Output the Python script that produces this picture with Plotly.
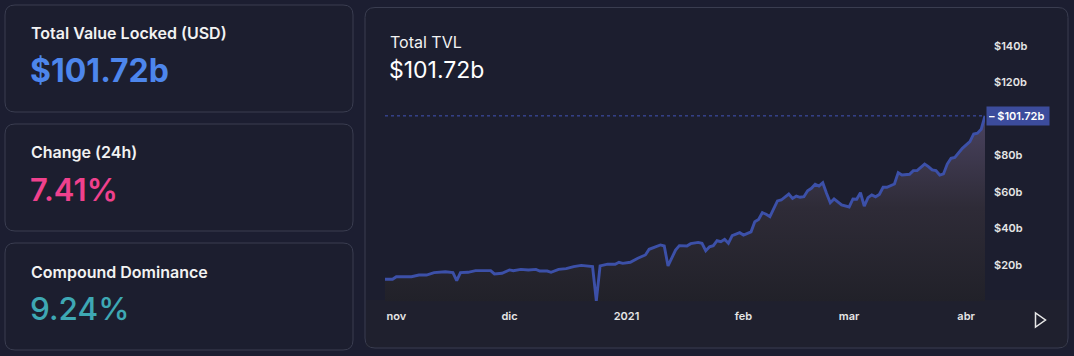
import plotly.graph_objects as go

# ---------------- data ----------------
dates = [
    "2020-10-29", "2020-10-31", "2020-11-01", "2020-11-04", "2020-11-05", "2020-11-07",
    "2020-11-09", "2020-11-11", "2020-11-13", "2020-11-14", "2020-11-16", "2020-11-17",
    "2020-11-18", "2020-11-20", "2020-11-22", "2020-11-26", "2020-11-27", "2020-11-29",
    "2020-12-01", "2020-12-02", "2020-12-04", "2020-12-06", "2020-12-08", "2020-12-09",
    "2020-12-11", "2020-12-12", "2020-12-14", "2020-12-16", "2020-12-18", "2020-12-20",
    "2020-12-23", "2020-12-24", "2020-12-25", "2020-12-27", "2020-12-29", "2020-12-30",
    "2020-12-31", "2021-01-02", "2021-01-04", "2021-01-06", "2021-01-07", "2021-01-09",
    "2021-01-10", "2021-01-11", "2021-01-12", "2021-01-14", "2021-01-15", "2021-01-17",
    "2021-01-18", "2021-01-20", "2021-01-21", "2021-01-22", "2021-01-23", "2021-01-24",
    "2021-01-25", "2021-01-26", "2021-01-27", "2021-01-28", "2021-01-29", "2021-01-31",
    "2021-02-01", "2021-02-03", "2021-02-04", "2021-02-05", "2021-02-06", "2021-02-07",
    "2021-02-08", "2021-02-10", "2021-02-11", "2021-02-13", "2021-02-14", "2021-02-15",
    "2021-02-16", "2021-02-17", "2021-02-18", "2021-02-19", "2021-02-20", "2021-02-21",
    "2021-02-22", "2021-02-23", "2021-02-24", "2021-02-25", "2021-02-27", "2021-03-01",
    "2021-03-02", "2021-03-03", "2021-03-04", "2021-03-05", "2021-03-06", "2021-03-07",
    "2021-03-08", "2021-03-09", "2021-03-10", "2021-03-11", "2021-03-13", "2021-03-14",
    "2021-03-15", "2021-03-17", "2021-03-18", "2021-03-19", "2021-03-21", "2021-03-22",
    "2021-03-23", "2021-03-24", "2021-03-25", "2021-03-26", "2021-03-27", "2021-03-28",
    "2021-03-29", "2021-03-31", "2021-04-01", "2021-04-02", "2021-04-03", "2021-04-04",
    "2021-04-05", "2021-04-06",
]
tvl_billions = [
    12.2, 12.2, 13.6, 13.3, 13.6, 14.5,
    14.5, 15.8, 16.0, 16.3, 15.8, 11.4,
    15.8, 16.0, 16.9, 16.9, 15.1, 15.5,
    17.3, 16.9, 17.6, 17.3, 17.6, 16.7,
    16.7, 16.0, 17.6, 18.0, 19.1, 19.8,
    19.1, 0.3, 19.5, 20.5, 20.4, 21.5,
    20.9, 21.5, 23.7, 25.5, 28.6, 30.0,
    31.0, 30.4, 19.5, 28.2, 30.6, 30.4,
    31.7, 32.4, 31.9, 27.8, 30.0, 30.6,
    33.3, 32.8, 34.1, 31.9, 36.1, 37.7,
    36.4, 38.2, 43.7, 45.0, 48.7, 47.8,
    46.5, 55.1, 55.6, 58.9, 56.5, 57.8,
    57.1, 57.4, 60.7, 62.0, 64.2, 63.3,
    65.1, 59.3, 54.1, 56.2, 52.9, 51.8,
    56.2, 56.0, 59.6, 52.3, 56.9, 58.4,
    57.4, 58.7, 62.6, 62.6, 64.4, 70.6,
    69.3, 69.7, 71.7, 71.7, 75.3, 73.9,
    72.1, 71.7, 69.3, 69.9, 75.3, 78.5,
    79.0, 83.9, 85.8, 87.6, 91.8, 92.2,
    94.4, 101.72,
]

month_ticks = ["2020-11-01", "2020-12-01", "2021-01-01", "2021-02-01", "2021-03-01", "2021-04-01"]
month_labels = ["nov", "dic", "2021", "feb", "mar", "abr"]
y_ticks = [20, 40, 60, 80, 120, 140]
y_labels = ["$20b", "$40b", "$60b", "$80b", "$120b", "$140b"]

cards = [
    ("Total Value Locked (USD)", "$101.72b", "#4d86ec", 700, 32),
    ("Change (24h)", "7.41%", "#f0418d", 600, 31),
    ("Compound Dominance", "9.24%", "#3ea8b4", 500, 31.5),
]
chart_title = "Total TVL"
chart_value = "$101.72b"

# ---------------- layout helpers ----------------
W, H = 1074, 356
FONT = "Inter, 'Noto Sans', sans-serif"
PAGE_BG = "#1c1e31"
CARD_BG = "#1c1e2f"
BORDER = "#3a3d50"


def fx(px):
    return px / W


def fy(py):
    return 1 - py / H


def rounded_rect(x0, y0, x1, y1, r):
    X0, X1 = fx(x0), fx(x1)
    Y0, Y1 = fy(y0), fy(y1)
    rx, ry = r / W, r / H
    return (
        f"M{X0 + rx},{Y0} L{X1 - rx},{Y0} Q{X1},{Y0} {X1},{Y0 - ry} "
        f"L{X1},{Y1 + ry} Q{X1},{Y1} {X1 - rx},{Y1} "
        f"L{X0 + rx},{Y1} Q{X0},{Y1} {X0},{Y1 + ry} "
        f"L{X0},{Y0 - ry} Q{X0},{Y0} {X0 + rx},{Y0} Z"
    )


PLOT_L, PLOT_R, PLOT_T, PLOT_B = 385, 985, 30, 301.5
PX_PER_B = 1.825
y_top = (PLOT_B - PLOT_T) / PX_PER_B

fig = go.Figure()

fig.add_trace(
    go.Scatter(
        x=dates,
        y=tvl_billions,
        mode="lines",
        line=dict(color="#3c50a8", width=2.9),
        fill="tozeroy",
        fillgradient=dict(
            type="vertical",
            colorscale=[[0, "#212129"], [0.5, "#2e2b37"], [1, "#4a4360"]],
        ),
        hoverinfo="skip",
        showlegend=False,
    )
)

shapes = []
card_boxes = [(5, 5, 353, 112), (5, 124, 353, 231), (5, 243, 353, 350)]
for (x0, y0, x1, y1) in card_boxes:
    shapes.append(dict(type="path", path=rounded_rect(x0, y0, x1, y1, 10), xref="paper", yref="paper",
                       fillcolor=CARD_BG, line=dict(color=BORDER, width=1), layer="below"))
shapes.append(dict(type="path", path=rounded_rect(365, 7.5, 1068, 348, 10), xref="paper", yref="paper",
                   fillcolor=CARD_BG, line=dict(color=BORDER, width=1), layer="below"))
# subtle lower shading of the chart card
shapes.append(dict(type="rect", xref="paper", yref="paper", x0=fx(366), x1=fx(1067), y0=fy(300), y1=fy(347),
                   fillcolor="rgba(40,40,44,0.25)", line=dict(width=0), layer="below"))

last_val = tvl_billions[-1]
shapes.append(dict(type="line", xref="x domain", yref="y", x0=0, x1=1, y0=last_val, y1=last_val,
                   line=dict(color="#4254b8", width=1, dash="3px,3px"), layer="above"))
shapes.append(dict(type="path", xref="paper", yref="paper",
                   path=f"M{fx(1035.5)},{fy(313)} L{fx(1035.5)},{fy(327)} L{fx(1045.5)},{fy(320)} Z",
                   line=dict(color="#e8e8e8", width=1.5), fillcolor="rgba(0,0,0,0)"))

annotations = []
title_y = [33, 152, 272]
value_y = [70, 189.5, 308.5]
for (title, value, color, weight, vsize), ty, vy in zip(cards, title_y, value_y):
    annotations.append(dict(text=title, x=fx(28.5), y=fy(ty), xref="paper", yref="paper",
                            xanchor="left", yanchor="middle", showarrow=False,
                            font=dict(family=FONT, size=16, color="#f2f2f2", weight=600)))
    annotations.append(dict(text=value, x=fx(27.5), y=fy(vy), xref="paper", yref="paper",
                            xanchor="left", yanchor="middle", showarrow=False,
                            font=dict(family=FONT, size=vsize, color=color, weight=weight)))

annotations.append(dict(text=chart_title, x=fx(387.5), y=fy(42), xref="paper", yref="paper",
                        xanchor="left", yanchor="middle", showarrow=False,
                        font=dict(family=FONT, size=16, color="#f2f2f2", weight=400)))
annotations.append(dict(text=chart_value, x=fx(387), y=fy(70), xref="paper", yref="paper",
                        xanchor="left", yanchor="middle", showarrow=False,
                        font=dict(family=FONT, size=23, color="#ffffff", weight=400)))
annotations.append(dict(text="<b>–</b> $101.72b", x=fx(985.5), y=last_val, xref="paper", yref="y",
                        xanchor="left", yanchor="middle", showarrow=False, align="left",
                        bgcolor="#3c4c9c", borderpad=2, width=58,
                        font=dict(family=FONT, size=11, color="#ffffff", weight=600)))

fig.update_layout(
    width=W, height=H,
    margin=dict(l=0, r=0, t=0, b=0),
    paper_bgcolor=PAGE_BG,
    plot_bgcolor="rgba(0,0,0,0)",
    shapes=shapes,
    annotations=annotations,
    xaxis=dict(
        domain=[fx(PLOT_L), fx(PLOT_R)],
        range=[dates[0], dates[-1]],
        type="date",
        showgrid=False, zeroline=False, showline=False,
        tickvals=month_ticks, ticktext=month_labels,
        tickfont=dict(family=FONT, size=11, color="#e6e6e6", weight=600),
        ticks="", ticklabelstandoff=6,
    ),
    yaxis=dict(
        domain=[fy(PLOT_B), fy(PLOT_T)],
        range=[0, y_top],
        side="right",
        showgrid=False, zeroline=False, showline=False,
        tickvals=y_ticks, ticktext=y_labels,
        tickfont=dict(family=FONT, size=11, color="#e6e6e6", weight=600),
        ticks="", ticklabelstandoff=8,
    ),
    hovermode=False,
)

fig.write_html(
    "out.html",
    config={"displayModeBar": False},
    post_script="document.body.style.margin='0';document.body.style.background='#1c1e31';document.body.style.overflow='hidden';",
)
